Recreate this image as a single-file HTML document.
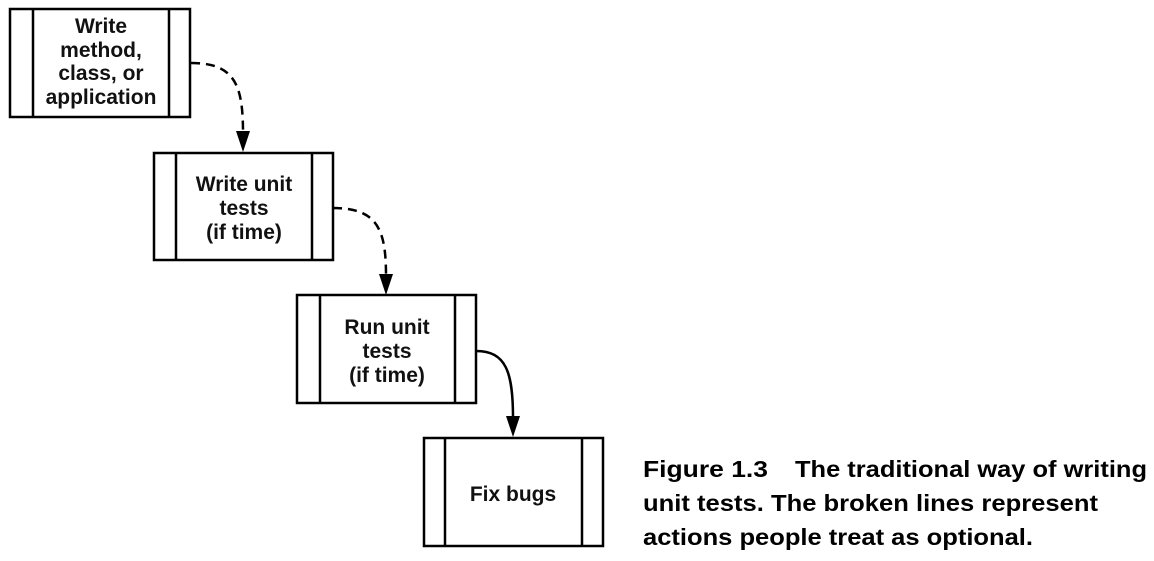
<!DOCTYPE html>
<html><head><style>
body{margin:0;background:#fff;width:1154px;height:561px;overflow:hidden;}
svg{display:block}
text{font-family:"Liberation Sans",Arial,sans-serif;font-weight:bold;font-size:21px;fill:#111;}
.cap{font-family:"Liberation Sans",Arial,sans-serif;font-size:23px;fill:#000;}
</style></head><body>
<svg width="1154" height="561" viewBox="0 0 1154 561">
<g fill="none" stroke="#000" stroke-width="2.5">
<rect x="10" y="9" width="180" height="108"/><line x1="33" y1="9" x2="33" y2="117"/><line x1="169" y1="9" x2="169" y2="117"/>
<rect x="154" y="153" width="179" height="107"/><line x1="176" y1="153" x2="176" y2="260"/><line x1="312" y1="153" x2="312" y2="260"/>
<rect x="297" y="295" width="179" height="108"/><line x1="320" y1="295" x2="320" y2="403"/><line x1="455" y1="295" x2="455" y2="403"/>
<rect x="424" y="438" width="179" height="108"/><line x1="445" y1="438" x2="445" y2="546"/><line x1="582" y1="438" x2="582" y2="546"/>
<path d="M191,63 C235,63 243,85 243,133" stroke-dasharray="9,6"/>
<path d="M333,208 C378,208 386,230 386,276" stroke-dasharray="9,6"/>
<path d="M476,351 C506,351 513,372 513,418"/>
</g>
<path d="M236,131 L250,131 L243,152 Z"/>
<path d="M379,274 L393,274 L386,295 Z"/>
<path d="M506,416 L520,416 L513,437 Z"/>
<g text-anchor="middle">
<text x="101" y="33">Write</text><text x="101" y="57">method,</text><text x="101" y="80">class, or</text><text x="101" y="104">application</text>
<text x="244" y="191">Write unit</text><text x="244" y="215">tests</text><text x="244" y="239">(if time)</text>
<text x="387" y="334">Run unit</text><text x="387" y="358">tests</text><text x="387" y="382">(if time)</text>
<text x="513" y="501">Fix bugs</text>
</g>
<text class="cap" x="643" y="477" textLength="125" lengthAdjust="spacingAndGlyphs">Figure 1.3</text>
<text class="cap" x="795" y="477" textLength="352" lengthAdjust="spacingAndGlyphs">The traditional way of writing</text>
<text class="cap" x="643" y="511" textLength="455" lengthAdjust="spacingAndGlyphs">unit tests. The broken lines represent</text>
<text class="cap" x="643" y="545" textLength="390" lengthAdjust="spacingAndGlyphs">actions people treat as optional.</text>
</svg>
</body></html>
